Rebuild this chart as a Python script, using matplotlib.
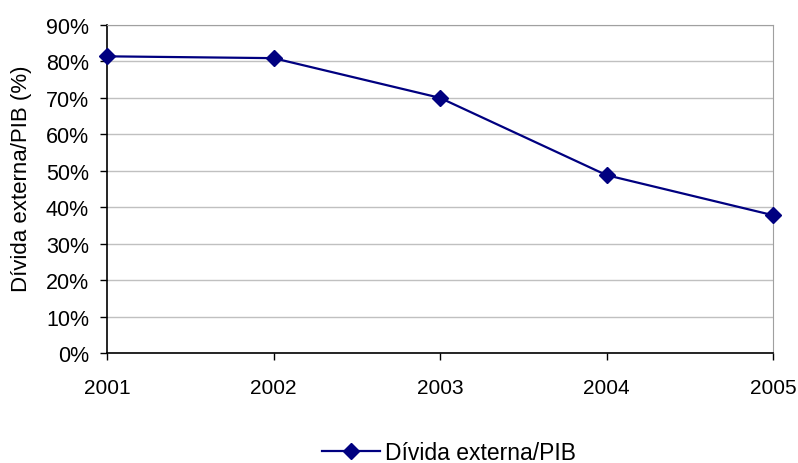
import matplotlib
matplotlib.use("Agg")
import matplotlib.pyplot as plt
from matplotlib.ticker import FuncFormatter

plt.rcParams['font.family'] = ['Liberation Sans', 'DejaVu Sans']

years = [2001, 2002, 2003, 2004, 2005]
debt_ratio = [81.4, 80.9, 70.0, 48.8, 37.8]
series_label = "Dívida externa/PIB"
y_label = "Dívida externa/PIB (%)"

fig = plt.figure(figsize=(7.98, 4.64), dpi=100)
ax = fig.add_axes([0.1341, 0.2371, 0.8346, 0.7069])

ax.plot(years, debt_ratio, color="#000080", linewidth=1.6, marker="D",
        markersize=8, markerfacecolor="#000080", markeredgecolor="#000080",
        label=series_label, zorder=3, clip_on=False)

ax.set_xlim(2001, 2005)
ax.set_ylim(0, 90)
ax.set_xticks(years)
ax.set_yticks(range(0, 91, 10))
ax.yaxis.set_major_formatter(FuncFormatter(lambda v, _: f"{int(v)}%"))
ax.grid(axis="y", color="#c0c0c0", linewidth=1)
ax.set_axisbelow(True)

for side in ("top", "right"):
    ax.spines[side].set_color("#a0a0a0")
for side in ("left", "bottom"):
    ax.spines[side].set_color("black")
    ax.spines[side].set_linewidth(1.2)

ax.tick_params(axis="both", direction="out", length=5, width=1, colors="black")
ax.tick_params(axis="y", labelsize=15.5, pad=8)
ax.tick_params(axis="x", labelsize=15, pad=13)
ax.set_ylabel(y_label, fontsize=16, labelpad=12)
ax.yaxis.set_label_coords(-0.113, 0.535)

fig.legend(loc="center", bbox_to_anchor=(0.563, 0.023), frameon=False,
           fontsize=16.5, handlelength=2.5, handletextpad=0.25)

fig.savefig("out.png", dpi=100)
